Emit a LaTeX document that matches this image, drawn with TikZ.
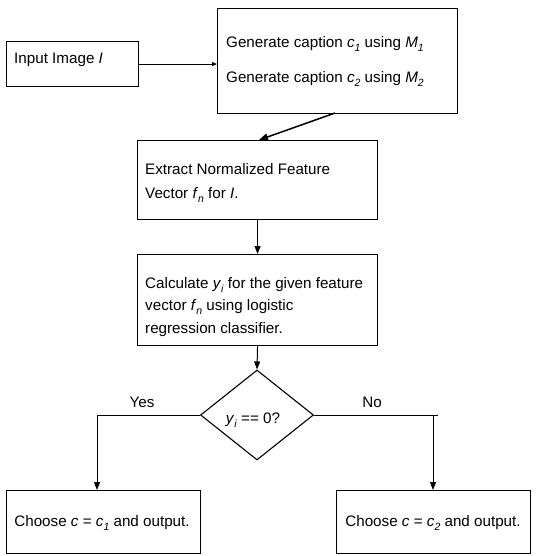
\documentclass[tikz,border=0pt]{standalone}
\usepackage{fontspec}
\setmainfont{Liberation Sans}
\usetikzlibrary{arrows.meta,shapes.geometric}
\newcommand{\isub}[2]{\textit{#1}\raisebox{-4pt}{\fontsize{10.5}{11}\selectfont\textit{#2}}}
\begin{document}
\begin{tikzpicture}[x=1pt,y=-1pt,
  box/.style={draw, line width=1.1pt, rectangle, inner sep=0pt, anchor=north west},
  txt/.style={inner sep=0pt, anchor=base west, font=\fontsize{15.2}{18}\selectfont},
  ctxt/.style={inner sep=0pt, anchor=base, font=\fontsize{15.2}{18}\selectfont},
  conn/.style={line width=1pt, -{Triangle[length=8pt,width=6pt]}},
  plain/.style={line width=1pt},
  ]
\useasboundingbox[fill=white] (0,0) rectangle (538,556);
% boxes
\node[box, minimum width=132pt, minimum height=45pt] (inp) at (6,41) {};
\node[box, minimum width=240pt, minimum height=105pt] (gen) at (217,8) {};
\node[box, minimum width=240pt, minimum height=79pt] (ext) at (137,140) {};
\node[box, minimum width=240pt, minimum height=91pt] (calc) at (137,254) {};
\node[draw, line width=1.1pt, diamond, inner sep=0pt, minimum width=113pt, minimum height=90pt] (dia) at (257,415) {};
\node[box, minimum width=194pt, minimum height=63pt] (out1) at (6,490) {};
\node[box, minimum width=194pt, minimum height=63pt] (out2) at (336,490) {};
% texts
\node[txt] (tinp) at (14,64) {Input Image \textit{I}};
\node[txt] (tgen1) at (226,48) {Generate caption \isub{c}{1} using \isub{M}{1}};
\node[txt] (tgen2) at (226,83) {Generate caption \isub{c}{2} using \isub{M}{2}};
\node[txt] (text1) at (145,175) {Extract Normalized Feature};
\node[txt] (text2) at (145,198) {Vector \isub{f}{n} for \textit{I}.};
\node[txt] (tcalc1) at (145,288) {Calculate \isub{y}{i} for the given feature};
\node[txt] (tcalc2) at (145,310) {vector \isub{f}{n} using logistic};
\node[txt] (tcalc3) at (145,333) {regression classifier.};
\node[ctxt] (tdia) at (253,423) {\isub{y}{i} == 0?};
\node[ctxt] (tout1) at (102,526) {Choose \textit{c} = \isub{c}{1} and output.};
\node[ctxt] (tout2) at (433,526) {Choose \textit{c} = \isub{c}{2} and output.};
\node[ctxt] (tyes) at (142,407) {Yes};
\node[ctxt] (tno) at (372,407) {No};
% helper coordinates
\coordinate (g1) at (335,113);
\coordinate (e1) at (259,140);
\coordinate (yc) at (97,415);
\coordinate (yb) at (97,490);
\coordinate (nc) at (438,415);
\coordinate (nt) at (433,415);
\coordinate (nb) at (433,490);
% connectors
\draw[line width=0.7pt, -{Triangle[length=5pt,width=4pt]}] (inp.east) -- (gen.west |- inp.east);
\draw[line width=1.5pt, -{Triangle[length=9pt,width=7pt]}] (g1) -- (e1);
\draw[conn] (ext.south) -- (calc.north);
\draw[conn] (calc.south) -- (dia.north);
\draw[plain] (dia.west) -- (yc);
\draw[conn] (yc) -- (yb);
\draw[plain] (dia.east) -- (nc);
\draw[conn] (nt) -- (nb);
\end{tikzpicture}
\end{document}
